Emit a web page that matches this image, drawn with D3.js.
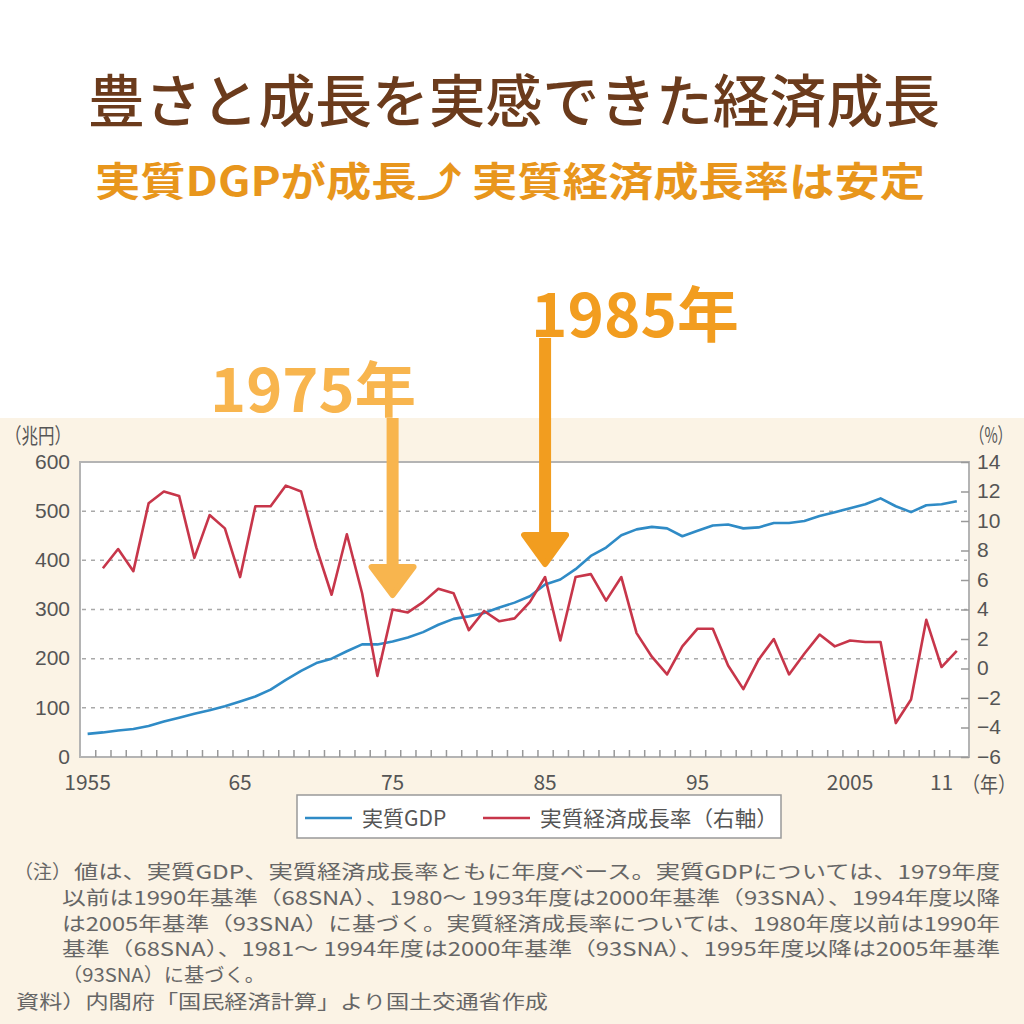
<html>
<head>
<meta charset="utf-8">
<style>
  body { margin: 0; background: #fff; }
  svg { display: block; font-family: "Noto Sans CJK JP", "Noto Sans", sans-serif; }
  .tick-label { fill: #555; font-size: 21px; }
  .grid { stroke: #a9a9a9; stroke-width: 1.5; stroke-dasharray: 4,5; }
  .note { fill: #666; font-size: 19px; }
</style>
<script src="https://d3js.org/d3.v7.min.js"></script>
</head>
<body>
<svg width="1024" height="1024"></svg>
<script>
// --- data ---
var years = [1955,1956,1957,1958,1959,1960,1961,1962,1963,1964,
             1965,1966,1967,1968,1969,1970,1971,1972,1973,1974,
             1975,1976,1977,1978,1979,1980,1981,1982,1983,1984,
             1985,1986,1987,1988,1989,1990,1991,1992,1993,1994,
             1995,1996,1997,1998,1999,2000,2001,2002,2003,2004,
             2005,2006,2007,2008,2009,2010,2011,2012];

// 実質GDP（兆円）
var gdp = [47,50,54,57,63,72,80,88,95,103,
           113,123,137,157,175,191,200,215,229,229,
           235,243,254,269,281,286,293,304,314,327,
           351,361,382,409,426,451,463,468,465,449,
           460,471,473,465,467,476,476,480,490,498,
           506,514,526,510,498,512,514,520];

// 実質経済成長率（%、右軸）
var growth = [null,6.8,8.1,6.6,11.2,12.0,11.7,7.5,10.4,9.5,
              6.2,11.0,11.0,12.4,12.0,8.2,5.0,9.1,5.1,-0.5,
              4.0,3.8,4.5,5.4,5.1,2.6,3.9,3.2,3.4,4.5,
              6.2,1.9,6.2,6.4,4.6,6.2,2.4,0.8,-0.4,1.5,
              2.7,2.7,0.2,-1.4,0.6,2.0,-0.4,1.0,2.3,1.5,
              1.9,1.8,1.8,-3.7,-2.1,3.3,0.1,1.2];

var leftTicks = [0,100,200,300,400,500,600];
var rightTicks = [-6,-4,-2,0,2,4,6,8,10,12,14];
var xLabelYears = [1955,1965,1975,1985,1995,2005,2011];
var xLabels = ["1955","65","75","85","95","2005","11"];

var title = "豊さと成長を実感できた経済成長";
var subtitle = "実質DGPが成長⤴ 実質経済成長率は安定";

var notes = [
  "値は、実質GDP、実質経済成長率ともに年度ベース。実質GDPについては、1979年度",
  "以前は1990年基準（68SNA）、1980～ 1993年度は2000年基準（93SNA）、1994年度以降",
  "は2005年基準（93SNA）に基づく。実質経済成長率については、1980年度以前は1990年",
  "基準（68SNA）、1981～ 1994年度は2000年基準（93SNA）、1995年度以降は2005年基準",
  "（93SNA）に基づく。"
];
var source = "資料）内閣府「国民経済計算」より国土交通省作成";

// --- layout ---
var g = {};
g.svg = d3.select("svg");
g.plot = { left: 80, right: 969, top: 462, bottom: 757 };

var x = d3.scaleLinear().domain([1954.5, 2012.8]).range([g.plot.left, g.plot.right]);
var yL = d3.scaleLinear().domain([0, 600]).range([g.plot.bottom, g.plot.top]);
var yR = d3.scaleLinear().domain([-6, 14]).range([g.plot.bottom, g.plot.top]);

var svg = g.svg;

// beige panel
svg.append("rect").attr("x", 0).attr("y", 418).attr("width", 1024).attr("height", 606)
  .attr("fill", "#fbf3e5");

// title
svg.append("text").attr("x", 88).attr("y", 97)
  .attr("dominant-baseline", "central")
  .attr("fill", "#6b3b1c").attr("font-size", 57).attr("font-weight", 500)
  .attr("textLength", 852).attr("lengthAdjust", "spacingAndGlyphs")
  .text(title);

svg.append("text").attr("x", 95).attr("y", 179)
  .attr("dominant-baseline", "central")
  .attr("fill", "#e8961c").attr("font-size", 40).attr("font-weight", 700)
  .attr("textLength", 830).attr("lengthAdjust", "spacingAndGlyphs")
  .text(subtitle);

// plot background + frame
svg.append("rect")
  .attr("x", g.plot.left).attr("y", g.plot.top)
  .attr("width", g.plot.right - g.plot.left).attr("height", g.plot.bottom - g.plot.top)
  .attr("fill", "#fff").attr("stroke", "#b4b4b4").attr("stroke-width", 2);

// dashed grid (left axis values)
svg.append("g").selectAll("line")
  .data(leftTicks.filter(function(d) { return d > 0 && d < 600; }))
  .enter().append("line")
  .attr("class", "grid")
  .attr("x1", g.plot.left + 2).attr("x2", g.plot.right - 2)
  .attr("y1", function(d) { return yL(d); }).attr("y2", function(d) { return yL(d); });

// left axis labels
var axL = svg.append("g").attr("transform", "translate(" + g.plot.left + ",0)")
  .call(d3.axisLeft(yL).tickValues(leftTicks).tickSize(0).tickPadding(10));
axL.select(".domain").remove();
axL.selectAll("text").attr("class", "tick-label").attr("fill", null)
  .attr("font-family", null).attr("font-size", null).attr("dy", "0.3em");

// right axis: inward ticks + labels
var axR = svg.append("g").attr("transform", "translate(" + g.plot.right + ",0)")
  .call(d3.axisRight(yR).tickValues(rightTicks).tickSizeInner(-8).tickSizeOuter(0).tickPadding(8));
axR.select(".domain").remove();
axR.selectAll("line").attr("stroke", "#999").attr("stroke-width", 1.5);
axR.selectAll("text").attr("class", "tick-label").attr("fill", null)
  .attr("font-family", null).attr("font-size", null).attr("dy", "0.3em");

// bottom axis: inward ticks between years
var tickYears = years.slice(0, years.length - 1).map(function(d) { return d + 0.5; });
var axB = svg.append("g").attr("transform", "translate(0," + g.plot.bottom + ")")
  .call(d3.axisBottom(x).tickValues(tickYears).tickSizeInner(-7).tickSizeOuter(0).tickFormat(""));
axB.select(".domain").remove();
axB.selectAll("line").attr("stroke", "#999").attr("stroke-width", 1.5);

svg.append("g").selectAll("text")
  .data(xLabelYears).enter().append("text")
  .attr("class", "tick-label")
  .attr("x", function(d) { return x(d); }).attr("y", 781)
  .attr("text-anchor", "middle").attr("dominant-baseline", "central")
  .text(function(d, i) { return xLabels[i]; });

// unit labels
svg.append("text").attr("class", "tick-label").attr("x", 962).attr("y", 783)
  .attr("dominant-baseline", "central")
  .attr("textLength", 54).attr("lengthAdjust", "spacingAndGlyphs").text("（年）");
svg.append("text").attr("class", "tick-label").attr("x", 5).attr("y", 434)
  .attr("dominant-baseline", "central")
  .attr("textLength", 66).attr("lengthAdjust", "spacingAndGlyphs").text("（兆円）");
svg.append("text").attr("class", "tick-label").attr("x", 970).attr("y", 434)
  .attr("dominant-baseline", "central")
  .attr("textLength", 42).attr("lengthAdjust", "spacingAndGlyphs").text("（%）");

// lines
var lineL = d3.line().x(function(d, i) { return x(years[i]); }).y(function(d) { return yL(d); });
var lineR = d3.line()
  .defined(function(d) { return d !== null; })
  .x(function(d, i) { return x(years[i]); }).y(function(d) { return yR(d); });

svg.append("path").datum(gdp).attr("d", lineL)
  .attr("fill", "none").attr("stroke", "#2f8bc6").attr("stroke-width", 2.6)
  .attr("stroke-linejoin", "round");
svg.append("path").datum(growth).attr("d", lineR)
  .attr("fill", "none").attr("stroke", "#c7364a").attr("stroke-width", 2.6)
  .attr("stroke-linejoin", "round");

// annotation arrows
function arrow(year, yTop, yHead, yTip, color) {
  var cx = x(year);
  svg.append("rect").attr("x", cx - 6).attr("y", yTop).attr("width", 12).attr("height", yHead - yTop + 4)
    .attr("fill", color);
  svg.append("path")
    .attr("d", "M" + (cx - 21) + "," + yHead + "L" + (cx + 21) + "," + yHead + "L" + cx + "," + (yTip - 3) + "Z")
    .attr("fill", color).attr("stroke", color).attr("stroke-width", 6).attr("stroke-linejoin", "round");
}
arrow(1975, 418, 567, 598, "#f8b54e");
arrow(1985, 338, 535, 567, "#f29d1f");

svg.append("text").attr("x", 210).attr("y", 385).attr("dominant-baseline", "central")
  .attr("fill", "#f8b54e").attr("font-size", 60).attr("font-weight", 700)
  .attr("textLength", 206).attr("lengthAdjust", "spacingAndGlyphs").text("1975年");
svg.append("text").attr("x", 531).attr("y", 310).attr("dominant-baseline", "central")
  .attr("fill", "#f29d1f").attr("font-size", 60).attr("font-weight", 700)
  .attr("textLength", 208).attr("lengthAdjust", "spacingAndGlyphs").text("1985年");

// legend
var lg = svg.append("g");
lg.append("rect").attr("x", 297).attr("y", 795).attr("width", 484).attr("height", 43)
  .attr("fill", "#fff").attr("stroke", "#999").attr("stroke-width", 1.5);
lg.append("line").attr("x1", 305).attr("x2", 352).attr("y1", 818).attr("y2", 818)
  .attr("stroke", "#2f8bc6").attr("stroke-width", 2.6);
lg.append("text").attr("class", "tick-label").attr("x", 362).attr("y", 817)
  .attr("dominant-baseline", "central").attr("font-size", 20).text("実質GDP");
lg.append("line").attr("x1", 483).attr("x2", 530).attr("y1", 818).attr("y2", 818)
  .attr("stroke", "#c7364a").attr("stroke-width", 2.6);
lg.append("text").attr("class", "tick-label").attr("x", 540).attr("y", 817)
  .attr("dominant-baseline", "central").attr("font-size", 20)
  .attr("textLength", 238).attr("lengthAdjust", "spacingAndGlyphs").text("実質経済成長率（右軸）");

// notes
var noteY = [870, 896, 922, 947, 973];
var noteEnd = [1000, 1000, 1000, 1000, 265];
svg.append("text").attr("class", "note").attr("x", 14).attr("y", noteY[0])
  .attr("dominant-baseline", "central").text("（注）");
notes.forEach(function(t, i) {
  var x0 = i === 0 ? 74 : 62;
  svg.append("text").attr("class", "note").attr("x", x0).attr("y", noteY[i])
    .attr("dominant-baseline", "central")
    .attr("textLength", noteEnd[i] - x0).attr("lengthAdjust", "spacingAndGlyphs")
    .text(t);
});
svg.append("text").attr("class", "note").attr("x", 16).attr("y", 1000)
  .attr("dominant-baseline", "central")
  .attr("textLength", 532).attr("lengthAdjust", "spacingAndGlyphs").text(source);
</script>
</body>
</html>
